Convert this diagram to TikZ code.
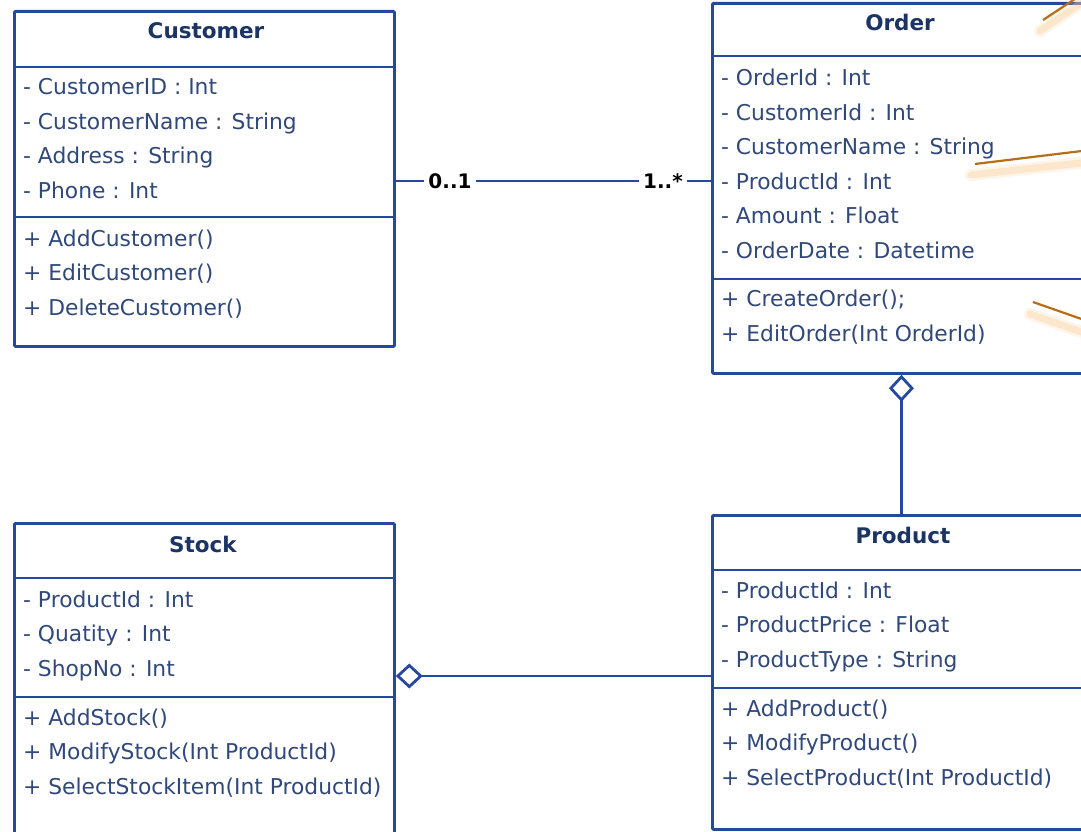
\documentclass[tikz,border=0pt]{standalone}
\usepackage{fontspec}
\setmainfont{DejaVu Sans}
\usetikzlibrary{arrows.meta}

\definecolor{umlline}{RGB}{38,72,158}
\definecolor{umltext}{RGB}{48,72,122}
\definecolor{umltitle}{RGB}{28,52,100}
\definecolor{noteline}{RGB}{184,110,20}
\definecolor{noteshade}{RGB}{250,205,150}

\tikzset{
  classbox/.style={draw=umlline, line width=2.8pt, rounded corners=1pt, anchor=north west, inner sep=0pt},
  classtitle/.style={font=\fontsize{21.5}{24}\selectfont\bfseries, text=umltitle, inner sep=0pt},
  members/.style={font=\fontsize{21.8}{34.5}\selectfont, text=umltext, align=left, anchor=base west, inner sep=0pt},
  divider/.style={draw=umlline, line width=2.8pt},
  mult/.style={font=\fontsize{20}{22}\selectfont\bfseries, inner sep=4pt},
  assoc/.style={draw=umlline, line width=1.5pt},
  aggr/.style={draw=umlline, line width=2.8pt, -{Diamond[open, length=27pt, width=25pt]}},
  notelink/.style={draw=noteline, line width=2.2pt},
  noteglow/.style={draw=noteshade, line cap=round}
}

\begin{document}
\begin{tikzpicture}[x=1pt, y=-1pt]
  \clip (0,0) rectangle (1081,832);
  \fill[white] (0,0) rectangle (1081,832);

  % Customer
  \node[classbox, minimum width=380pt, minimum height=335pt] (customer) at (13,10) {};
  \node[classtitle] (customer-title) at (206,31) {Customer};
  \draw[divider] ([yshift=-57pt]customer.north west) -- ([yshift=-57pt]customer.north east);
  \node[members] (customer-attr) at (23,198) {- CustomerID : Int\\- CustomerName : String\\- Address : String\\- Phone : Int};
  \draw[divider] ([yshift=-207pt]customer.north west) -- ([yshift=-207pt]customer.north east);
  \node[members] (customer-ops) at (23,315) {+ AddCustomer()\\+ EditCustomer()\\+ DeleteCustomer()};

  % Order
  \node[classbox, minimum width=378pt, minimum height=370pt] (order) at (711,2) {};
  \node[classtitle] (order-title) at (900,22) {Order};
  \draw[divider] ([yshift=-54pt]order.north west) -- ([yshift=-54pt]order.north east);
  \node[members] (order-attr) at (721,258) {- OrderId : Int\\- CustomerId : Int\\- CustomerName : String\\- ProductId : Int\\- Amount : Float\\- OrderDate : Datetime};
  \draw[divider] ([yshift=-277pt]order.north west) -- ([yshift=-277pt]order.north east);
  \node[members] (order-ops) at (721,341) {+ CreateOrder();\\+ EditOrder(Int OrderId)};

  % Product
  \node[classbox, minimum width=378pt, minimum height=314pt] (product) at (711,514) {};
  \node[classtitle] (product-title) at (903,535) {Product};
  \draw[divider] ([yshift=-56pt]product.north west) -- ([yshift=-56pt]product.north east);
  \node[members] (product-attr) at (721,667) {- ProductId : Int\\- ProductPrice : Float\\- ProductType : String};
  \draw[divider] ([yshift=-174pt]product.north west) -- ([yshift=-174pt]product.north east);
  \node[members] (product-ops) at (721,785) {+ AddProduct()\\+ ModifyProduct()\\+ SelectProduct(Int ProductId)};

  % Stock
  \node[classbox, minimum width=380pt, minimum height=324pt] (stock) at (13,522) {};
  \node[classtitle] (stock-title) at (203,544) {Stock};
  \draw[divider] ([yshift=-56pt]stock.north west) -- ([yshift=-56pt]stock.north east);
  \node[members] (stock-attr) at (23,676) {- ProductId : Int\\- Quatity : Int\\- ShopNo : Int};
  \draw[divider] ([yshift=-175pt]stock.north west) -- ([yshift=-175pt]stock.north east);
  \node[members] (stock-ops) at (23,794) {+ AddStock()\\+ ModifyStock(Int ProductId)\\+ SelectStockItem(Int ProductId)};

  % associations
  \node[mult] (mult-customer) at (450,181) {0..1};
  \node[mult] (mult-order) at (663,181) {1..*};
  \draw[assoc] (customer.east |- mult-customer) -- (mult-customer) -- (mult-order) -- (order.west |- mult-order);
  \draw[aggr] (product.north) -- (order.south);
  \coordinate (stock-link) at (0,676);
  \draw[aggr] (product.west |- stock-link) -- (stock.east |- stock-link);

  % note links
  \foreach \w/\o in {12/.2, 7/.35} {
    \draw[noteglow, line width=\w pt, opacity=\o] (1040,31) -- (1090,-3);
    \draw[noteglow, line width=\w pt, opacity=\o] (971,175) -- (1090,162);
    \draw[noteglow, line width=\w pt, opacity=\o] (1030,314) -- (1090,335);
  }
  \draw[notelink] (1043,20) -- (1090,-11);
  \draw[notelink] (975,164) -- (1090,150);
  \draw[notelink] (1033,302) -- (1090,322);
\end{tikzpicture}
\end{document}
